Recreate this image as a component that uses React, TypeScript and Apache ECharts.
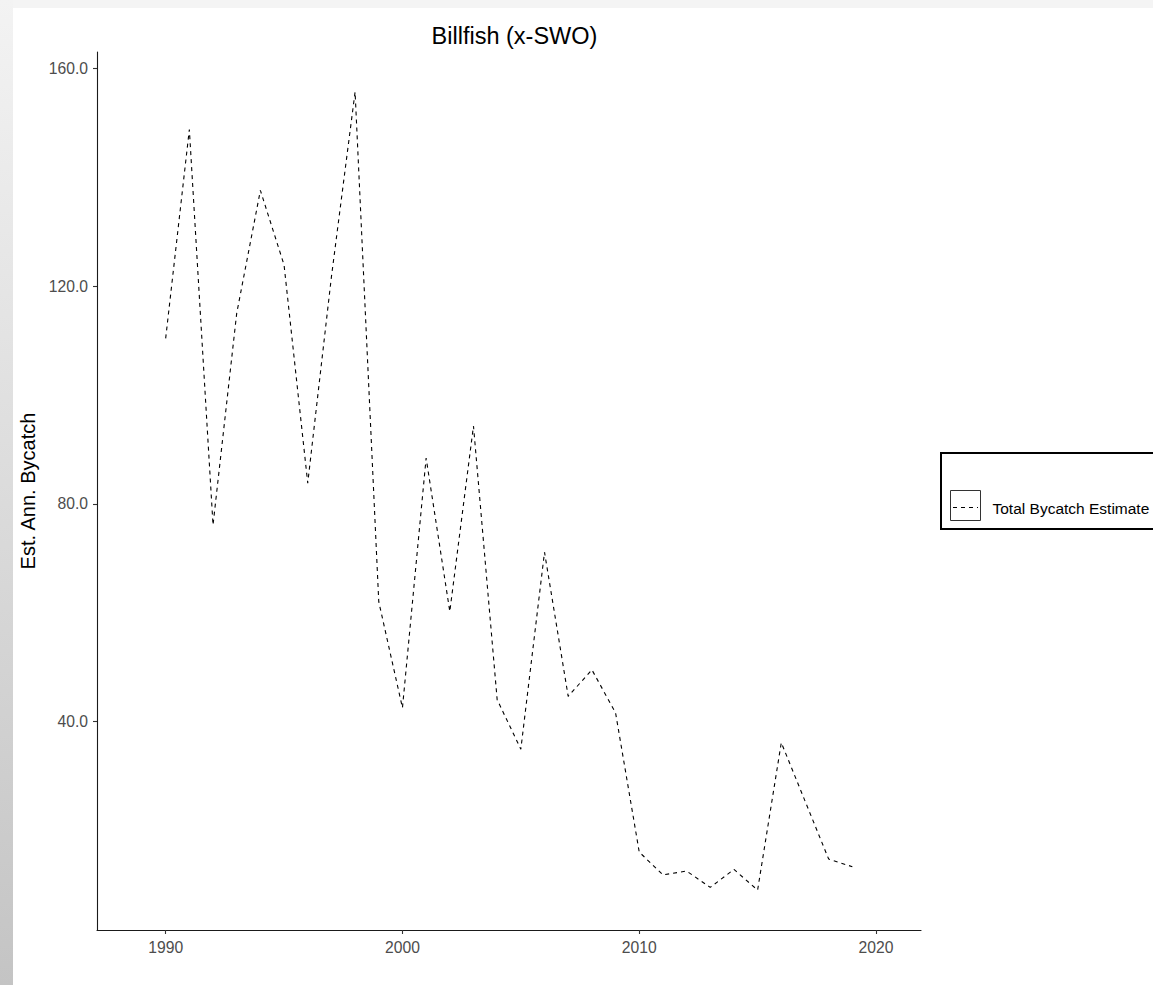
import React, { useEffect, useRef } from "react";
import * as echarts from "echarts";

const years = [
  1990, 1991, 1992, 1993, 1994, 1995, 1996, 1997, 1998, 1999,
  2000, 2001, 2002, 2003, 2004, 2005, 2006, 2007, 2008, 2009,
  2010, 2011, 2012, 2013, 2014, 2015, 2016, 2017, 2018, 2019,
];
const totalBycatch = [
  110.4, 148.8, 76.1, 115.0, 137.6, 123.9, 83.8, 121.7, 155.7, 62.0,
  42.5, 88.4, 60.2, 94.3, 44.0, 34.9, 71.1, 44.6, 49.5, 41.6,
  16.0, 11.8, 12.5, 9.5, 12.8, 9.0, 36.1, 25.4, 14.7, 13.3,
];
const xTicks = [1990, 2000, 2010, 2020];
const yTicks = [40, 80, 120, 160];
const seriesName = "Total Bycatch Estimate";
const chartTitle = "Billfish (x-SWO)";
const yAxisTitle = "Est. Ann. Bycatch";

const FONT = "'Liberation Sans', Arial, Helvetica, sans-serif";

export default function App() {
  const ref = useRef<HTMLDivElement>(null);

  useEffect(() => {
    document.body.style.margin = "0";
    const chart = echarts.init(ref.current as HTMLDivElement, null, { renderer: "svg" });

    const xFirst = years[0];
    const xLast = years[years.length - 1];
    const xSpan = xLast - xFirst;
    const yLo = Math.min(...totalBycatch);
    const yHi = Math.max(...totalBycatch);
    const ySpan = yHi - yLo;

    const option: any = {
      animation: false,
      backgroundColor: "#ffffff",
      textStyle: { fontFamily: FONT },
      title: {
        text: chartTitle,
        left: 509.5,
        top: 19,
        textAlign: "center",
        textStyle: { fontFamily: FONT, fontSize: 23.5, fontWeight: "normal", color: "#000" },
      },
      grid: { left: 97, top: 52, width: 824, height: 878, containLabel: false },
      xAxis: {
        type: "value",
        min: xFirst - 0.1 * xSpan,
        max: xLast + 0.1 * xSpan,
        splitLine: { show: false },
        axisLine: { show: true, onZero: false, lineStyle: { color: "#1a1a1a", width: 1.1 } },
        axisTick: { show: true, length: 4, customValues: xTicks, lineStyle: { color: "#333", width: 1.1 } },
        axisLabel: {
          customValues: xTicks,
          margin: 9,
          color: "#4d4d4d",
          fontSize: 15.7,
          fontFamily: FONT,
          formatter: (v: number) => String(Math.round(v)),
        },
      },
      yAxis: {
        type: "value",
        min: yLo - 0.05 * ySpan,
        max: yHi + 0.05 * ySpan,
        name: yAxisTitle,
        nameLocation: "middle",
        nameRotate: 90,
        nameGap: 52,
        nameTextStyle: { fontFamily: FONT, fontSize: 20, color: "#000" },
        splitLine: { show: false },
        axisLine: { show: true, onZero: false, lineStyle: { color: "#1a1a1a", width: 1.1 } },
        axisTick: { show: true, length: 4, customValues: yTicks, lineStyle: { color: "#333", width: 1.1 } },
        axisLabel: {
          customValues: yTicks,
          margin: 9,
          color: "#4d4d4d",
          fontSize: 15.7,
          fontFamily: FONT,
          formatter: (v: number) => v.toFixed(1),
        },
      },
      series: [
        {
          name: seriesName,
          type: "line",
          data: years.map((y, i) => [y, totalBycatch[i]]),
          showSymbol: false,
          symbol: "none",
          lineStyle: { color: "#000", width: 1.1, type: [4, 4] },
        },
      ],
      graphic: [
        {
          type: "rect",
          silent: true,
          shape: { x: 0, y: 0, width: 13, height: 985 },
          style: {
            fill: new echarts.graphic.LinearGradient(0, 0, 0, 1, [
              { offset: 0, color: "#f3f3f3" },
              { offset: 1, color: "#c4c4c4" },
            ]),
          },
        },
        {
          type: "rect",
          silent: true,
          shape: { x: 13, y: 0, width: 1140, height: 8 },
          style: { fill: "#f4f4f4" },
        },
        {
          type: "rect",
          silent: true,
          shape: { x: 941, y: 453, width: 240, height: 76 },
          style: { fill: "#ffffff", stroke: "#000", lineWidth: 2 },
        },
        {
          type: "rect",
          silent: true,
          shape: { x: 950.5, y: 490.5, width: 30, height: 30 },
          style: { fill: "#ffffff", stroke: "#333", lineWidth: 1 },
        },
        {
          type: "line",
          silent: true,
          shape: { x1: 953, y1: 507.5, x2: 978, y2: 507.5 },
          style: { stroke: "#000", lineWidth: 1.1, lineDash: [4, 4] },
        },
        {
          type: "text",
          silent: true,
          x: 992.5,
          y: 508,
          style: {
            text: seriesName,
            fontFamily: FONT,
            fontSize: 15.5,
            fill: "#000",
            verticalAlign: "middle",
            align: "left",
          },
        },
      ],
    };

    chart.setOption(option);
    return () => chart.dispose();
  }, []);

  return (
    <div
      ref={ref}
      style={{ position: "absolute", left: 0, top: 0, width: 1153, height: 985, background: "#fff" }}
    />
  );
}
